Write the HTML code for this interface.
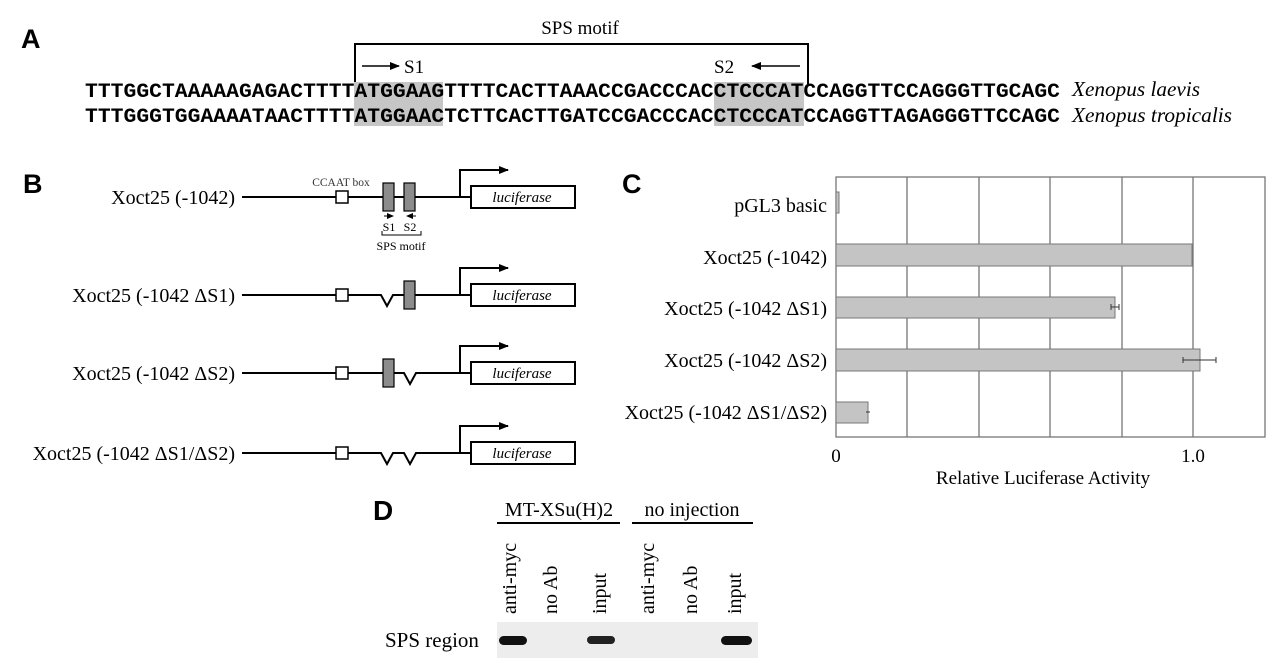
<!DOCTYPE html>
<html><head><meta charset="utf-8"><style>html,body{margin:0;padding:0;background:#fff}svg{display:block}</style></head>
<body>
<svg width="1279" height="670" viewBox="0 0 1279 670" xmlns="http://www.w3.org/2000/svg" font-family="Liberation Serif, serif">
<defs>
<marker id="ah" markerWidth="10" markerHeight="8" refX="9" refY="4" orient="auto" markerUnits="userSpaceOnUse"><path d="M0,0 L10,4 L0,8 z" fill="#000"/></marker>
<marker id="as" markerWidth="7" markerHeight="6" refX="6" refY="3" orient="auto" markerUnits="userSpaceOnUse"><path d="M0,0 L7,3 L0,6 z" fill="#000"/></marker>
</defs>
<!-- A -->
<text x="21" y="48" font-family="Liberation Sans, sans-serif" font-weight="bold" font-size="27">A</text>
<text x="580" y="34" text-anchor="middle" font-size="19">SPS motif</text>
<path d="M355,84 V44 H808 V84" fill="none" stroke="#000" stroke-width="2"/>
<line x1="362" y1="66" x2="399" y2="66" stroke="#000" stroke-width="1.5" marker-end="url(#ah)"/>
<text x="404" y="73" font-size="19">S1</text>
<text x="714" y="73" font-size="19">S2</text>
<line x1="800" y1="66" x2="752" y2="66" stroke="#000" stroke-width="1.5" marker-end="url(#ah)"/>
<rect x="354" y="82" width="89" height="44" fill="#c6c6c6"/>
<rect x="714" y="82" width="90" height="44" fill="#c6c6c6"/>
<g font-family="Liberation Mono, monospace" font-weight="bold" font-size="20">
<text x="85" y="97" textLength="975" lengthAdjust="spacingAndGlyphs">TTTGGCTAAAAAGAGACTTTTATGGAAGTTTTCACTTAAACCGACCCACCTCCCATCCAGGTTCCAGGGTTGCAGC</text>
<text x="85" y="122" textLength="975" lengthAdjust="spacingAndGlyphs">TTTGGGTGGAAAATAACTTTTATGGAACTCTTCACTTGATCCGACCCACCTCCCATCCAGGTTAGAGGGTTCCAGC</text>
</g>
<text x="1072" y="96" font-style="italic" font-size="21" textLength="128" lengthAdjust="spacingAndGlyphs">Xenopus laevis</text>
<text x="1072" y="122" font-style="italic" font-size="21" textLength="160" lengthAdjust="spacingAndGlyphs">Xenopus tropicalis</text>

<!-- B -->
<text x="23" y="193" font-family="Liberation Sans, sans-serif" font-weight="bold" font-size="27">B</text>
<g font-size="20" text-anchor="end">
<text x="235" y="204">Xoct25 (-1042)</text>
<text x="235" y="302">Xoct25 (-1042 ΔS1)</text>
<text x="235" y="380">Xoct25 (-1042 ΔS2)</text>
<text x="235" y="460">Xoct25 (-1042 ΔS1/ΔS2)</text>
</g>
<g stroke="#000" stroke-width="2" fill="none">
<line x1="242" y1="197" x2="470" y2="197"/>
<path d="M460,197 V170 H508" marker-end="url(#ah)"/>
<path d="M242,295 H381 L387,306 L393,295 H470"/>
<path d="M460,295 V268 H508" marker-end="url(#ah)"/>
<path d="M242,373 H404 L410,384 L416,373 H470"/>
<path d="M460,373 V346 H508" marker-end="url(#ah)"/>
<path d="M242,453 H381 L387,464 L393,453 H404 L410,464 L416,453 H470"/>
<path d="M460,453 V426 H508" marker-end="url(#ah)"/>
</g>
<g fill="#fff" stroke="#000" stroke-width="1.5">
<rect x="336" y="191" width="12" height="12"/>
<rect x="336" y="289" width="12" height="12"/>
<rect x="336" y="367" width="12" height="12"/>
<rect x="336" y="447" width="12" height="12"/>
</g>
<g fill="#8c8c8c" stroke="#000" stroke-width="1.2">
<rect x="383" y="183" width="11" height="28"/>
<rect x="404" y="183" width="11" height="28"/>
<rect x="404" y="281" width="11" height="28"/>
<rect x="383" y="359" width="11" height="28"/>
</g>
<g fill="#fff" stroke="#000" stroke-width="2">
<rect x="471" y="186" width="104" height="22"/>
<rect x="471" y="284" width="104" height="22"/>
<rect x="471" y="362" width="104" height="22"/>
<rect x="471" y="442" width="104" height="22"/>
</g>
<g font-style="italic" font-size="15" text-anchor="middle">
<text x="522" y="202">luciferase</text>
<text x="522" y="300">luciferase</text>
<text x="522" y="378">luciferase</text>
<text x="522" y="458">luciferase</text>
</g>
<text x="341" y="186" text-anchor="middle" font-size="11.5" fill="#333">CCAAT box</text>
<line x1="384" y1="216" x2="393" y2="216" stroke="#000" stroke-width="1" marker-end="url(#as)"/>
<line x1="416" y1="216" x2="407" y2="216" stroke="#000" stroke-width="1" marker-end="url(#as)"/>
<text x="389" y="231" text-anchor="middle" font-size="12">S1</text>
<text x="410" y="231" text-anchor="middle" font-size="12">S2</text>
<path d="M382,231 V235 H421 V231" fill="none" stroke="#000" stroke-width="1"/>
<text x="401" y="250" text-anchor="middle" font-size="12">SPS motif</text>

<!-- C -->
<text x="622" y="193" font-family="Liberation Sans, sans-serif" font-weight="bold" font-size="27">C</text>
<g stroke="#777" stroke-width="1.3" fill="none">
<rect x="836" y="177" width="429" height="260"/>
<line x1="907" y1="177" x2="907" y2="437"/>
<line x1="979" y1="177" x2="979" y2="437"/>
<line x1="1050" y1="177" x2="1050" y2="437"/>
<line x1="1122" y1="177" x2="1122" y2="437"/>
<line x1="1193" y1="177" x2="1193" y2="437"/>
</g>
<g fill="#c4c4c4" stroke="#777" stroke-width="1">
<rect x="836" y="192" width="3" height="21"/>
<rect x="836" y="244" width="356" height="22"/>
<rect x="836" y="297" width="279" height="21"/>
<rect x="836" y="349" width="364" height="22"/>
<rect x="836" y="402" width="32" height="21"/>
</g>
<g stroke="#333" stroke-width="1">
<path d="M1111,307 H1119 M1111,304 V310 M1119,304 V310"/>
<path d="M1183,360 H1216 M1183,357 V363 M1216,357 V363"/>
<path d="M866,412 H870"/>
</g>
<g font-size="20" text-anchor="end">
<text x="827" y="212">pGL3 basic</text>
<text x="827" y="264">Xoct25 (-1042)</text>
<text x="827" y="315">Xoct25 (-1042 ΔS1)</text>
<text x="827" y="367">Xoct25 (-1042 ΔS2)</text>
<text x="827" y="419">Xoct25 (-1042 ΔS1/ΔS2)</text>
</g>
<text x="836" y="462" text-anchor="middle" font-size="19">0</text>
<text x="1193" y="462" text-anchor="middle" font-size="19">1.0</text>
<text x="1043" y="484" text-anchor="middle" font-size="19">Relative Luciferase Activity</text>

<!-- D -->
<text x="373" y="520" font-family="Liberation Sans, sans-serif" font-weight="bold" font-size="28">D</text>
<text x="559" y="516" text-anchor="middle" font-size="20">MT-XSu(H)2</text>
<text x="692" y="516" text-anchor="middle" font-size="20">no injection</text>
<line x1="497" y1="523" x2="620" y2="523" stroke="#000" stroke-width="2"/>
<line x1="632" y1="523" x2="753" y2="523" stroke="#000" stroke-width="2"/>
<g font-size="20">
<text transform="translate(516,614) rotate(-90)">anti-myc</text>
<text transform="translate(557,614) rotate(-90)">no Ab</text>
<text transform="translate(606,614) rotate(-90)">input</text>
<text transform="translate(654,614) rotate(-90)">anti-myc</text>
<text transform="translate(697,614) rotate(-90)">no Ab</text>
<text transform="translate(741,614) rotate(-90)">input</text>
</g>
<rect x="497" y="622" width="261" height="36" fill="#ededed"/>
<rect x="499" y="636" width="28" height="9" rx="4.5" fill="#111"/>
<rect x="587" y="636" width="28" height="8" rx="4" fill="#222"/>
<rect x="721" y="636" width="31" height="9" rx="4.5" fill="#111"/>
<text x="385" y="647" font-size="21">SPS region</text>
</svg>
</body></html>
